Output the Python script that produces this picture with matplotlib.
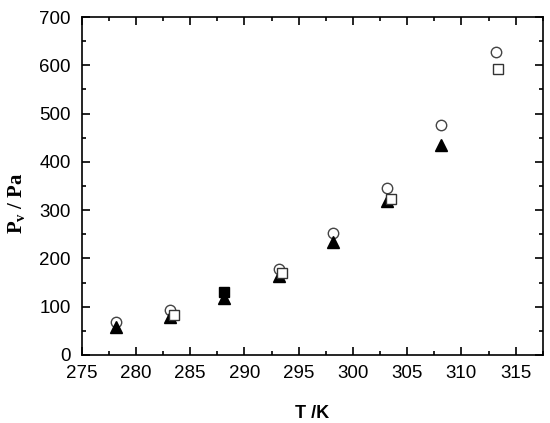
import matplotlib
matplotlib.use("Agg")
import matplotlib.pyplot as plt
from matplotlib.ticker import MultipleLocator

plt.rcParams['mathtext.fontset'] = 'custom'
plt.rcParams['mathtext.rm'] = 'Liberation Serif'
plt.rcParams['mathtext.bf'] = 'Liberation Serif:bold'
plt.rcParams['mathtext.it'] = 'Liberation Serif:italic:bold'

# Data
T_circle = [278.15, 283.15, 293.15, 298.15, 303.15, 308.15, 313.15]
P_circle = [69, 93, 178, 252, 345, 477, 628]
T_square = [283.5, 293.5, 303.5, 313.35]
P_square = [82, 170, 323, 592]
T_square_filled = [288.15]
P_square_filled = [131]
T_tri = [278.15, 283.15, 288.15, 293.15, 298.15, 303.15, 308.15]
P_tri = [57, 79, 117, 164, 233, 318, 434]

fig = plt.figure(figsize=(5.5, 4.23), dpi=100)
ax = fig.add_axes([0.1485, 0.1608, 0.8385, 0.799])

ax.plot(T_circle, P_circle, linestyle='none', marker='o', markersize=7.5,
        markerfacecolor='white', markeredgecolor='#444444', markeredgewidth=1.0, zorder=3)
ax.plot(T_tri, P_tri, linestyle='none', marker='^', markersize=8.5,
        markerfacecolor='black', markeredgecolor='black', zorder=4)
ax.plot(T_square, P_square, linestyle='none', marker='s', markersize=7,
        markerfacecolor='white', markeredgecolor='#333333', markeredgewidth=1.0, zorder=5)
ax.plot(T_square_filled, P_square_filled, linestyle='none', marker='s', markersize=7,
        markerfacecolor='black', markeredgecolor='black', zorder=5)

ax.set_xlim(275, 317.5)
ax.set_ylim(0, 700)
ax.xaxis.set_major_locator(MultipleLocator(5))
ax.xaxis.set_minor_locator(MultipleLocator(2.5))
ax.yaxis.set_major_locator(MultipleLocator(100))
ax.yaxis.set_minor_locator(MultipleLocator(50))

ax.tick_params(which='both', direction='in', top=True, right=True,
               width=1.2, labelsize=13.5)
ax.tick_params(axis='y', which='both', pad=8)
ax.tick_params(axis='x', which='both', pad=7)
ax.tick_params(which='major', length=6)
ax.tick_params(which='minor', length=3)
for lbl in ax.get_xticklabels() + ax.get_yticklabels():
    lbl.set_fontfamily('Liberation Sans')
for s in ax.spines.values():
    s.set_linewidth(1.2)

ax.set_xlabel('T /K', fontfamily='Liberation Sans', fontweight='bold',
              fontsize=13)
ax.xaxis.set_label_coords(0.5, -0.148)
ax.set_ylabel(r'P$_\mathbf{v}$ / Pa', fontfamily='Liberation Serif',
              fontweight='bold', fontsize=15)
ax.yaxis.set_label_coords(-0.118, 0.45)

fig.savefig('out.png', dpi=100)
